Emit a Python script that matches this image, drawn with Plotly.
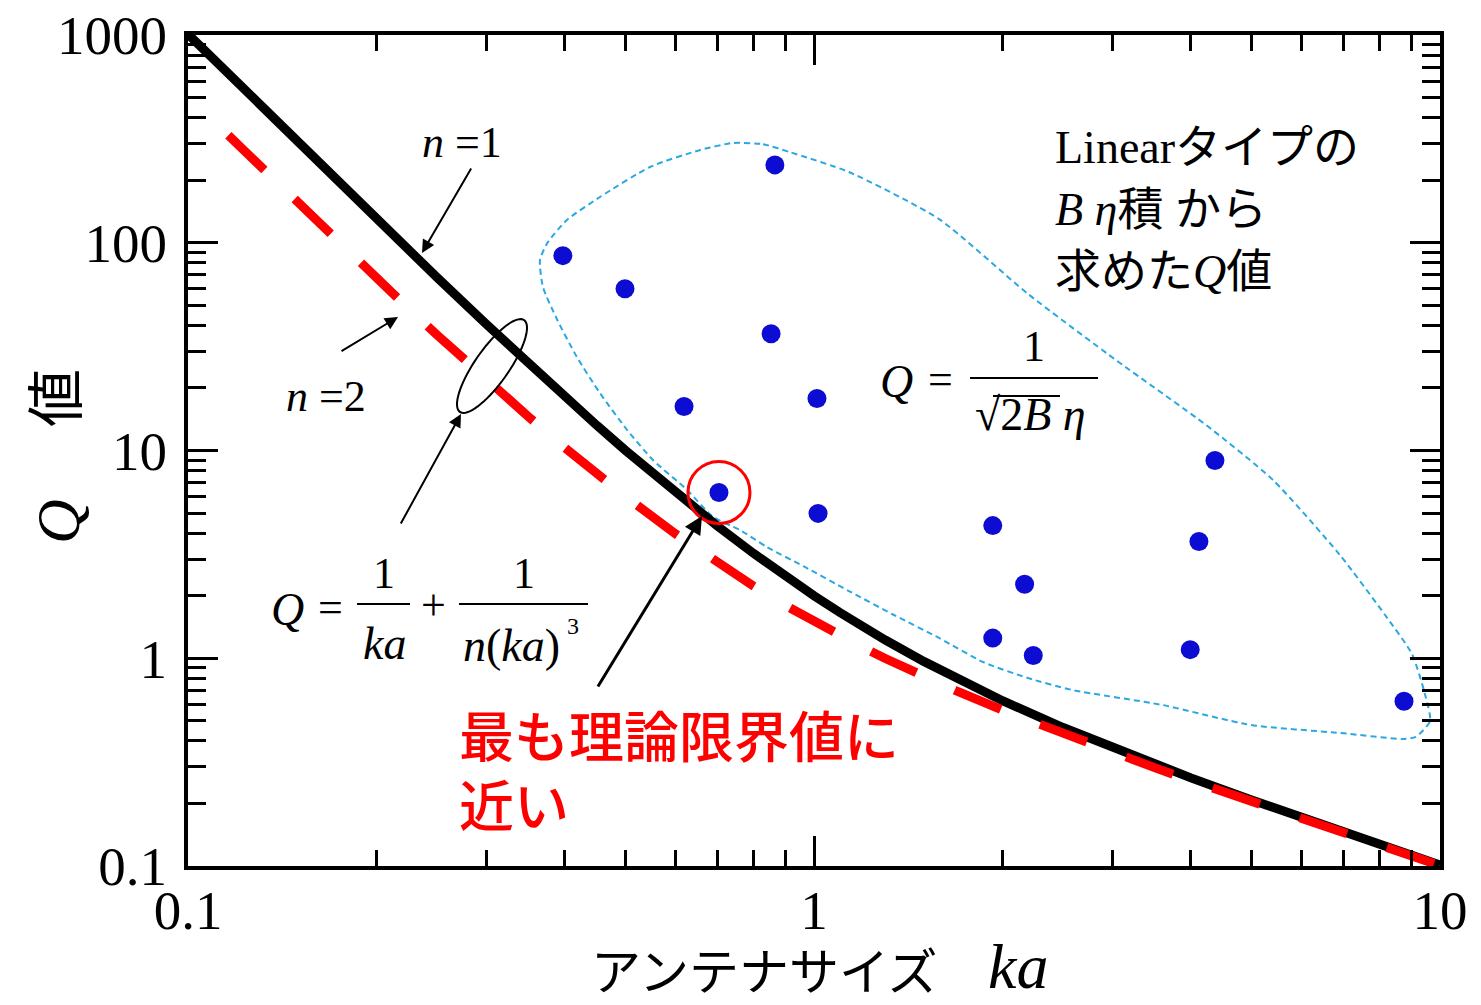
import numpy as np
import plotly.graph_objects as go

# ---------------- data ----------------
# theoretical limit curves Q = 1/ka + 1/(n ka^3)
ka_n1 = [0.1, 0.12, 0.15, 0.17, 0.2, 0.22, 0.25, 0.3, 0.35, 0.4, 0.45, 0.5, 0.6, 0.7, 0.8, 0.9,
         1.0, 1.1, 1.2, 1.3, 1.5, 1.7, 2, 2.5, 3, 3.5, 4, 5, 6, 7, 8, 10]
q_n1 = [1010, 587.0, 302.96, 209.4, 130, 98.46, 68, 40.37, 26.18, 18.125, 13.196, 10, 6.296, 4.344,
        3.203, 2.483, 2.0, 1.660, 1.412, 1.224, 0.963, 0.792, 0.625, 0.464, 0.370, 0.309, 0.2656,
        0.208, 0.1713, 0.1458, 0.12695, 0.101]
ka_n2 = [0.116, 0.12, 0.15, 0.17, 0.2, 0.22, 0.25, 0.3, 0.35, 0.4, 0.45, 0.5, 0.6, 0.7, 0.8, 0.9,
         1.0, 1.1, 1.2, 1.3, 1.5, 1.7, 2, 2.5, 3, 3.5, 4, 5, 6, 7, 8, 10]
q_n2 = [328.9, 297.7, 154.8, 107.65, 67.5, 51.50, 36, 21.85, 14.52, 10.31, 7.709, 6, 3.981, 2.886,
        2.227, 1.797, 1.5, 1.285, 1.123, 0.997, 0.815, 0.690, 0.5625, 0.432, 0.352, 0.2974, 0.2578,
        0.204, 0.169, 0.1443, 0.126, 0.1005]

# measured Q values of the Linear type antennas (from B-eta product)
ka_meas = [0.397, 0.499, 0.866, 0.854, 0.620, 1.011, 0.705, 1.015, 1.93, 2.17, 1.93, 2.24,
           4.37, 4.12, 3.99, 8.76]
q_meas = [86.7, 60.1, 237, 36.5, 16.3, 17.8, 6.28, 4.98, 4.35, 2.27, 1.25, 1.03,
          8.95, 3.65, 1.10, 0.621]

# highlighted point (closest to the theoretical limit)
ka_best = [0.705]
q_best = [6.28]

# enclosing region of the measured points
ka_region = [0.742, 0.829, 0.915, 1.137, 1.584, 2.197, 3.048, 4.229, 5.41, 6.92, 8.17, 9.02, 9.46,
             9.64, 9.15, 8.73, 6.92, 4.99, 3.60, 2.583, 2.197, 1.862, 1.584, 1.342, 1.137, 0.967,
             0.841, 0.762, 0.690, 0.627, 0.553, 0.503, 0.455, 0.418, 0.389, 0.369, 0.365, 0.375,
             0.403, 0.455, 0.547, 0.658, 0.742]
q_region = [302, 298, 273, 219, 130, 56.7, 27.0, 13.27, 7.21, 3.14, 1.615, 1.048, 0.673,
            0.499, 0.418, 0.409, 0.437, 0.477, 0.596, 0.704, 0.803, 0.959, 1.252, 1.615, 2.107, 2.750,
            3.43, 4.14, 4.79, 6.46, 9.00, 12.55, 18.9, 28.2, 42.5, 61.2, 82.6, 99.7,
            128.7, 166, 231.6, 279.6, 302]

x_tickvals = [0.1, 1, 10]
x_ticktext = ["0.1", "1", "10"]
y_tickvals = [0.1, 1, 10, 100, 1000]
y_ticktext = ["0.1", "1", "10", "100", "1000"]
x_minor = [0.2, 0.3, 0.4, 0.5, 0.6, 0.7, 0.8, 0.9, 2, 3, 4, 5, 6, 7, 8, 9]
y_minor = [0.2, 0.3, 0.4, 0.5, 0.6, 0.7, 0.8, 0.9, 2, 3, 4, 5, 6, 7, 8, 9,
           20, 30, 40, 50, 60, 70, 80, 90, 200, 300, 400, 500, 600, 700, 800, 900]

# ---------------- layout helpers ----------------
W, H = 1481, 1005
L, R, T, B = 188, 41, 35, 139
PW, PH = W - L - R, H - T - B


def px(x):
    return (x - L) / PW


def py(y):
    return (H - B - y) / PH


SERIF = "Liberation Serif, Noto Sans CJK JP"
CJK = "Noto Sans CJK JP, Liberation Serif"

fig = go.Figure()

fig.add_trace(go.Scatter(x=ka_region, y=q_region, mode="lines",
                         line=dict(color="#2aa8e0", width=2, dash="6px,4px", shape="spline", smoothing=0.6),
                         hoverinfo="skip", showlegend=False))
fig.add_trace(go.Scatter(x=ka_n1, y=q_n1, mode="lines",
                         line=dict(color="black", width=9), showlegend=False))
fig.add_trace(go.Scatter(x=ka_n2, y=q_n2, mode="lines",
                         line=dict(color="#ff0000", width=9, dash="50px,42px"), showlegend=False))
fig.add_trace(go.Scatter(x=ka_meas, y=q_meas, mode="markers",
                         marker=dict(color="#0c0cd2", size=19), showlegend=False))
fig.add_trace(go.Scatter(x=ka_best, y=q_best, mode="markers",
                         marker=dict(symbol="circle-open", color="#ff0000", size=62,
                                     line=dict(width=3, color="#ff0000")), showlegend=False))

axis_common = dict(
    type="log", showgrid=False, zeroline=False,
    showline=True, linecolor="black", linewidth=4, mirror="allticks",
    ticks="inside", ticklen=30, tickwidth=3, tickcolor="black",
    tickfont=dict(family=SERIF, size=55, color="black"),
)

fig.update_xaxes(range=[-1, 1], tickvals=x_tickvals, ticktext=x_ticktext,
                 minor=dict(tickvals=x_minor, ticks="inside", ticklen=16, tickwidth=3, tickcolor="black"),
                 ticklabelstandoff=-7, **axis_common)
fig.update_yaxes(range=[-1, 3], tickvals=y_tickvals, ticktext=y_ticktext,
                 minor=dict(tickvals=y_minor, ticks="inside", ticklen=18, tickwidth=3, tickcolor="black"),
                 ticklabelstandoff=6, **axis_common)

ann = []


def text(x, y, s, size=46, family=SERIF, color="black", xanchor="center", weight="normal", angle=0):
    ann.append(dict(x=px(x), y=py(y), xref="paper", yref="paper", text=s, showarrow=False,
                    font=dict(family=family, size=size, color=color, weight=weight),
                    xanchor=xanchor, yanchor="middle", textangle=angle))


def arrow(tipx, tipy, tailx, taily, width=2, size=1.3):
    ann.append(dict(x=px(tipx), y=py(tipy), xref="paper", yref="paper", text="", showarrow=True,
                    ax=tailx - tipx, ay=taily - tipy, axref="pixel", ayref="pixel",
                    arrowhead=2, arrowsize=size, arrowwidth=width, arrowcolor="black"))


# axis titles
text(764, 968, "アンテナサイズ", size=50, family=CJK)
text(1018, 966, "<i>ka</i>", size=64)
text(58, 522, "<i>Q</i>", size=62, angle=-90)
text(52, 398, "値", size=58, family=CJK, angle=-90)

# curve labels
text(462, 142, "<i>n</i> =1", size=44)
text(326, 396, "<i>n</i> =2", size=44)
arrow(422, 253, 472, 167)
arrow(398, 317, 340, 352)
arrow(461, 414, 400, 525)

# formula 1
text(287, 609, "<i>Q</i>", size=46)
text(330, 607, "=", size=44)
text(384, 573, "1", size=44)
text(384, 643, "<i>ka</i>", size=46)
text(433, 605, "+", size=44)
text(524, 573, "1", size=44)
text(511, 645, "<i>n</i>(<i>ka</i>)", size=46)
text(573, 626, "3", size=24)

# formula 2
text(896, 381, "<i>Q</i>", size=46)
text(940, 379, "=", size=44)
text(1034, 346, "1", size=44)
text(1030, 414, "√2<i>B η</i>", size=46)

# block label
text(1053, 148, "Linearタイプの", size=46, xanchor="left")
text(1053, 210, "<i>B η</i>積 から", size=46, xanchor="left")
text(1053, 272, "求めた<i>Q</i>値", size=46, xanchor="left")

# red remark
text(457, 733, "最も理論限界値に", size=55, family=CJK, color="#ff0000", xanchor="left", weight=500)
text(457, 802, "近い", size=55, family=CJK, color="#ff0000", xanchor="left", weight=500)
arrow(702, 516, 597, 688, width=3, size=1.2)

shapes = []
# fraction bars
for x0, x1, y in [(357, 410, 604), (459, 588, 604), (970, 1098, 378)]:
    shapes.append(dict(type="line", xref="paper", yref="paper", x0=px(x0), x1=px(x1), y0=py(y), y1=py(y),
                       line=dict(color="black", width=2)))
# radical vinculum
shapes.append(dict(type="line", xref="paper", yref="paper", x0=px(993), x1=px(1060), y0=py(396), y1=py(396),
                   line=dict(color="black", width=2)))
# ellipse grouping the two curves
t = np.linspace(0, 2 * np.pi, 72)
cx, cy, a, b, ang = 492, 366, 56, 17, np.deg2rad(-55)
ex = cx + a * np.cos(t) * np.cos(ang) - b * np.sin(t) * np.sin(ang)
ey = cy + a * np.cos(t) * np.sin(ang) + b * np.sin(t) * np.cos(ang)
path = "M " + " L ".join(f"{px(u):.5f},{py(v):.5f}" for u, v in zip(ex, ey)) + " Z"
shapes.append(dict(type="path", xref="paper", yref="paper", path=path, line=dict(color="black", width=2)))

fig.update_layout(
    width=W, height=H,
    margin=dict(l=L, r=R, t=T, b=B, autoexpand=False),
    paper_bgcolor="white", plot_bgcolor="white",
    annotations=ann, shapes=shapes,
    showlegend=False,
)

fig.write_html("out.html", config={"displayModeBar": False},
               post_script="document.body.style.margin='0';document.body.style.overflow='hidden';")
